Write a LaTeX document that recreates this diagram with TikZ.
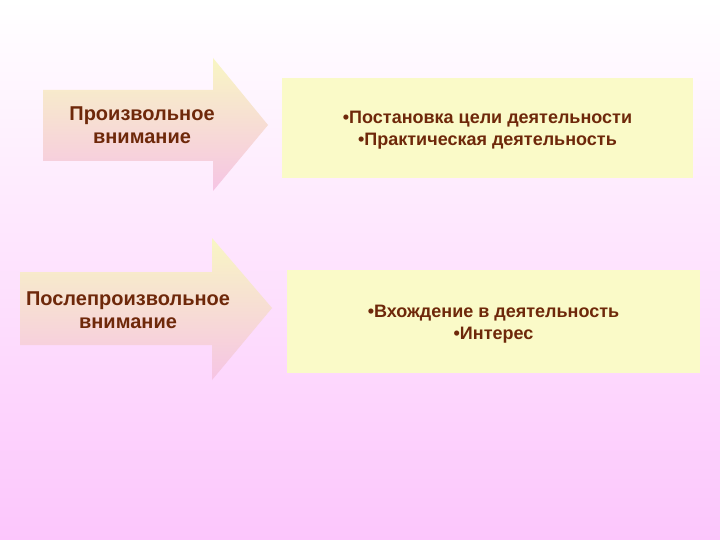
\documentclass[tikz,border=0pt]{standalone}
\usepackage{fontspec}
\setmainfont{Liberation Sans}
\usepackage{xcolor}
\definecolor{txtbrown}{RGB}{110,40,10}
\definecolor{bgpink}{RGB}{252,198,252}
\definecolor{arrowyellow}{RGB}{248,246,196}
\definecolor{arrowpink}{RGB}{246,196,228}
\definecolor{boxyellow}{RGB}{250,250,200}

\begin{document}
\begin{tikzpicture}[x=1pt,y=-1pt,
  arrowfill/.style={top color=arrowyellow,bottom color=arrowpink},
  listbox/.style={fill=boxyellow,inner sep=0pt},
  lbl/.style={text=txtbrown,font=\bfseries\fontsize{20}{23}\selectfont,align=center},
  listlbl/.style={text=txtbrown,font=\bfseries\fontsize{18}{22}\selectfont,align=center}]
\useasboundingbox (0,0) rectangle (720,540);
\shade[top color=white,bottom color=bgpink] (0,0) rectangle (720,540);
% arrows
\shade[arrowfill] (43,90) -- (213,90) -- (213,58) -- (268,125) -- (213,191) -- (213,161) -- (43,161) -- cycle;
\shade[arrowfill] (20,272) -- (212,272) -- (212,238) -- (272,308) -- (212,380) -- (212,345) -- (20,345) -- cycle;
\node[lbl] (vol) at (142,125) {Произвольное\\внимание};
\node[lbl] (postvol) at (128,310) {Послепроизвольное\\внимание};
% boxes
\node[listbox,minimum width=411pt,minimum height=100pt] (goal) at (487.5,128) {};
\node[listbox,minimum width=413pt,minimum height=103pt] (interest) at (493.5,321.5) {};
\node[listlbl] (goaltext) at ([yshift=-2pt]goal.center) {•Постановка цели деятельности\\•Практическая деятельность};
\node[listlbl] (interesttext) at ([yshift=-3pt]interest.center) {•Вхождение в деятельность\\•Интерес};
\end{tikzpicture}
\end{document}
